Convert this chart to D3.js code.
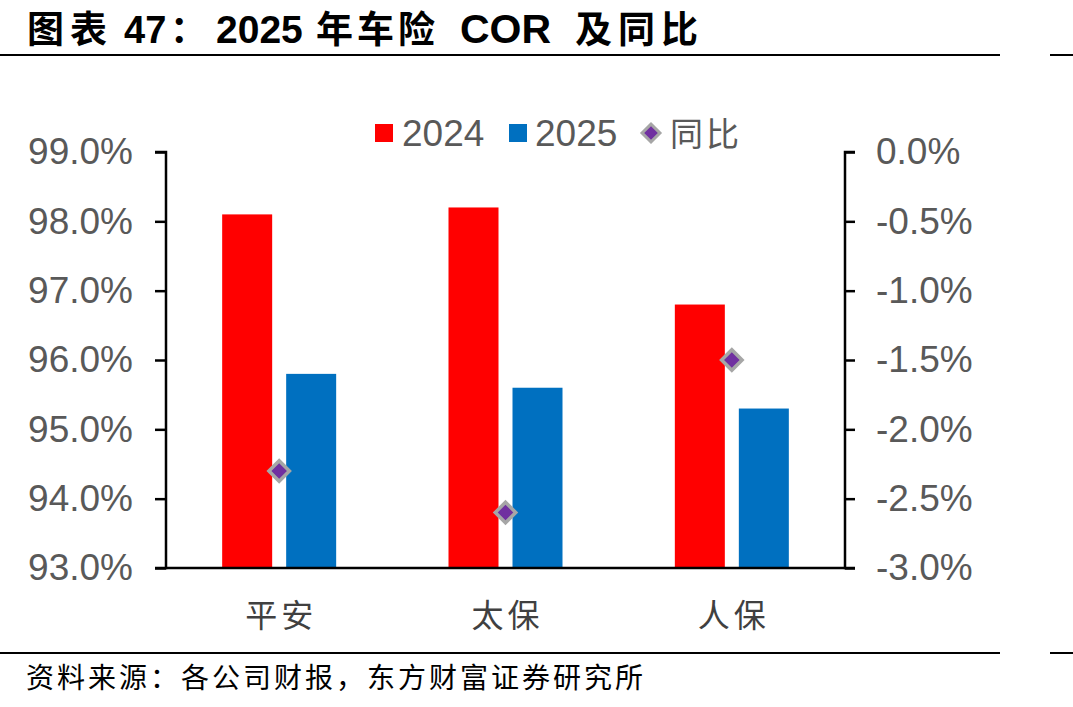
<!DOCTYPE html>
<html><head><meta charset="utf-8">
<script src="https://cdn.jsdelivr.net/npm/d3@7"></script>
<style>body{margin:0;background:#fff}svg{display:block}</style>
</head><body><svg id="c" width="1073" height="707"></svg>
<script>
const categories = ["平安", "太保", "人保"];
const cor2024 = [98.1, 98.2, 96.8];
const cor2025 = [95.8, 95.6, 95.3];
const yoy = [-2.3, -2.6, -1.5];
const leftTicks = [93, 94, 95, 96, 97, 98, 99];
const rightTicks = [-3.0, -2.5, -2.0, -1.5, -1.0, -0.5, 0.0];

const svg = d3.select("#c");
const m = {l:166, r:845, t:152, b:568};
const cjk = "'Noto Sans CJK SC', sans-serif";
const latin = "Arial, 'Liberation Sans', sans-serif";

// title (pieces)
const titleParts = [
  {t: "图表", f: cjk, s: 37, ls: 6, x: 27},
  {t: "47", f: latin, s: 38, ls: 0, x: 124},
  {t: "：", f: cjk, s: 37, ls: 0, x: 170},
  {t: "2025", f: latin, s: 39, ls: 0, x: 216},
  {t: "年车险", f: cjk, s: 37, ls: 4, x: 316},
  {t: "COR", f: latin, s: 41, ls: 0, x: 460},
  {t: "及同比", f: cjk, s: 37, ls: 6, x: 575}
];
svg.selectAll(".tt").data(titleParts).join("text")
  .attr("x", (d) => d.x).attr("y", 43).attr("font-family", (d) => d.f).attr("font-size", (d) => d.s)
  .attr("letter-spacing", (d) => d.ls)
  .attr("font-weight", "bold").attr("fill", "#000").text((d) => d.t);
[55, 653].forEach((yy) => {
  svg.append("line").attr("x1", 0).attr("x2", 1000).attr("y1", yy).attr("y2", yy).attr("stroke", "#000").attr("stroke-width", 2);
  svg.append("line").attr("x1", 1050).attr("x2", 1073).attr("y1", yy).attr("y2", yy).attr("stroke", "#000").attr("stroke-width", 2);
});
svg.append("text").attr("x", 26).attr("y", 688).attr("font-family", cjk)
  .attr("font-size", 28).attr("letter-spacing", 3).attr("fill", "#000")
  .text("资料来源：各公司财报，东方财富证券研究所");

const x = d3.scaleBand().domain(categories).range([m.l, m.r]);
const yL = d3.scaleLinear().domain([93, 99]).range([m.b, m.t]);
const yR = d3.scaleLinear().domain([-3, 0]).range([m.b, m.t]);

const bw = 50, gap = 7;
const g = svg.append("g");
g.selectAll(".b24").data(categories).join("rect")
  .attr("x", (d) => x(d) + x.bandwidth()/2 - gap - bw)
  .attr("width", bw)
  .attr("y", (d, i) => yL(cor2024[i]))
  .attr("height", (d, i) => yL(93) - yL(cor2024[i]))
  .attr("fill", "#FF0000");
g.selectAll(".b25").data(categories).join("rect")
  .attr("x", (d) => x(d) + x.bandwidth()/2 + gap)
  .attr("width", bw)
  .attr("y", (d, i) => yL(cor2025[i]))
  .attr("height", (d, i) => yL(93) - yL(cor2025[i]))
  .attr("fill", "#0070C0");

// axes
const axL = d3.axisLeft(yL).tickValues(leftTicks).tickSize(11).tickPadding(22).tickFormat((d) => d.toFixed(1) + "%");
const gL = svg.append("g").attr("transform", `translate(${m.l},0)`).call(axL);
const axR = d3.axisRight(yR).tickValues(rightTicks).tickSize(10).tickPadding(20).tickFormat((d) => d.toFixed(1) + "%");
const gR = svg.append("g").attr("transform", `translate(${m.r},0)`).call(axR);
[gL, gR].forEach((a) => {
  a.select(".domain").attr("stroke", "#000").attr("stroke-width", 2.5);
  a.selectAll(".tick line").attr("stroke", "#000").attr("stroke-width", 2.5);
  a.selectAll(".tick text").attr("font-family", latin).attr("font-size", 37).attr("fill", "#595959");
});
gL.select(".domain").attr("d", `M-11,${m.t}H0V${m.b}H-11`);
gR.select(".domain").attr("d", `M10,${m.t}H0V${m.b}H10`);
gR.selectAll(".tick text").attr("text-anchor", "start").attr("x", 31);
svg.append("line").attr("x1", m.l).attr("x2", m.r).attr("y1", m.b).attr("y2", m.b).attr("stroke", "#000").attr("stroke-width", 2.5);

// category labels
svg.selectAll(".cat").data(categories).join("text")
  .attr("x", (d) => x(d) + x.bandwidth()/2 + 2).attr("y", 627).attr("text-anchor", "middle")
  .attr("font-family", cjk).attr("font-size", 32).attr("letter-spacing", 4).attr("fill", "#404040").text((d) => d);

// diamonds
const dsym = d3.symbol().type(d3.symbolSquare).size(210);
svg.selectAll(".dm").data(categories).join("path")
  .attr("d", dsym)
  .attr("transform", (d, i) => `translate(${x(d) + x.bandwidth()/2},${yR(yoy[i])}) rotate(45)`)
  .attr("fill", "#7030A0").attr("stroke", "#A6A6A6").attr("stroke-width", 3.5);

// legend
const lg = svg.append("g");
lg.append("rect").attr("x", 375).attr("y", 124).attr("width", 18).attr("height", 18).attr("fill", "#FF0000");
lg.append("text").attr("x", 402).attr("y", 146).attr("font-family", latin).attr("font-size", 37).attr("fill", "#595959").text("2024");
lg.append("rect").attr("x", 509).attr("y", 124).attr("width", 18).attr("height", 18).attr("fill", "#0070C0");
lg.append("text").attr("x", 535).attr("y", 146).attr("font-family", latin).attr("font-size", 37).attr("fill", "#595959").text("2025");
lg.append("path").attr("d", d3.symbol().type(d3.symbolSquare).size(160))
  .attr("transform", "translate(651,133) rotate(45)")
  .attr("fill", "#7030A0").attr("stroke", "#A6A6A6").attr("stroke-width", 3);
lg.append("text").attr("x", 670).attr("y", 146).attr("font-family", cjk).attr("font-size", 33).attr("letter-spacing", 3).attr("fill", "#595959").text("同比");
</script></body></html>
